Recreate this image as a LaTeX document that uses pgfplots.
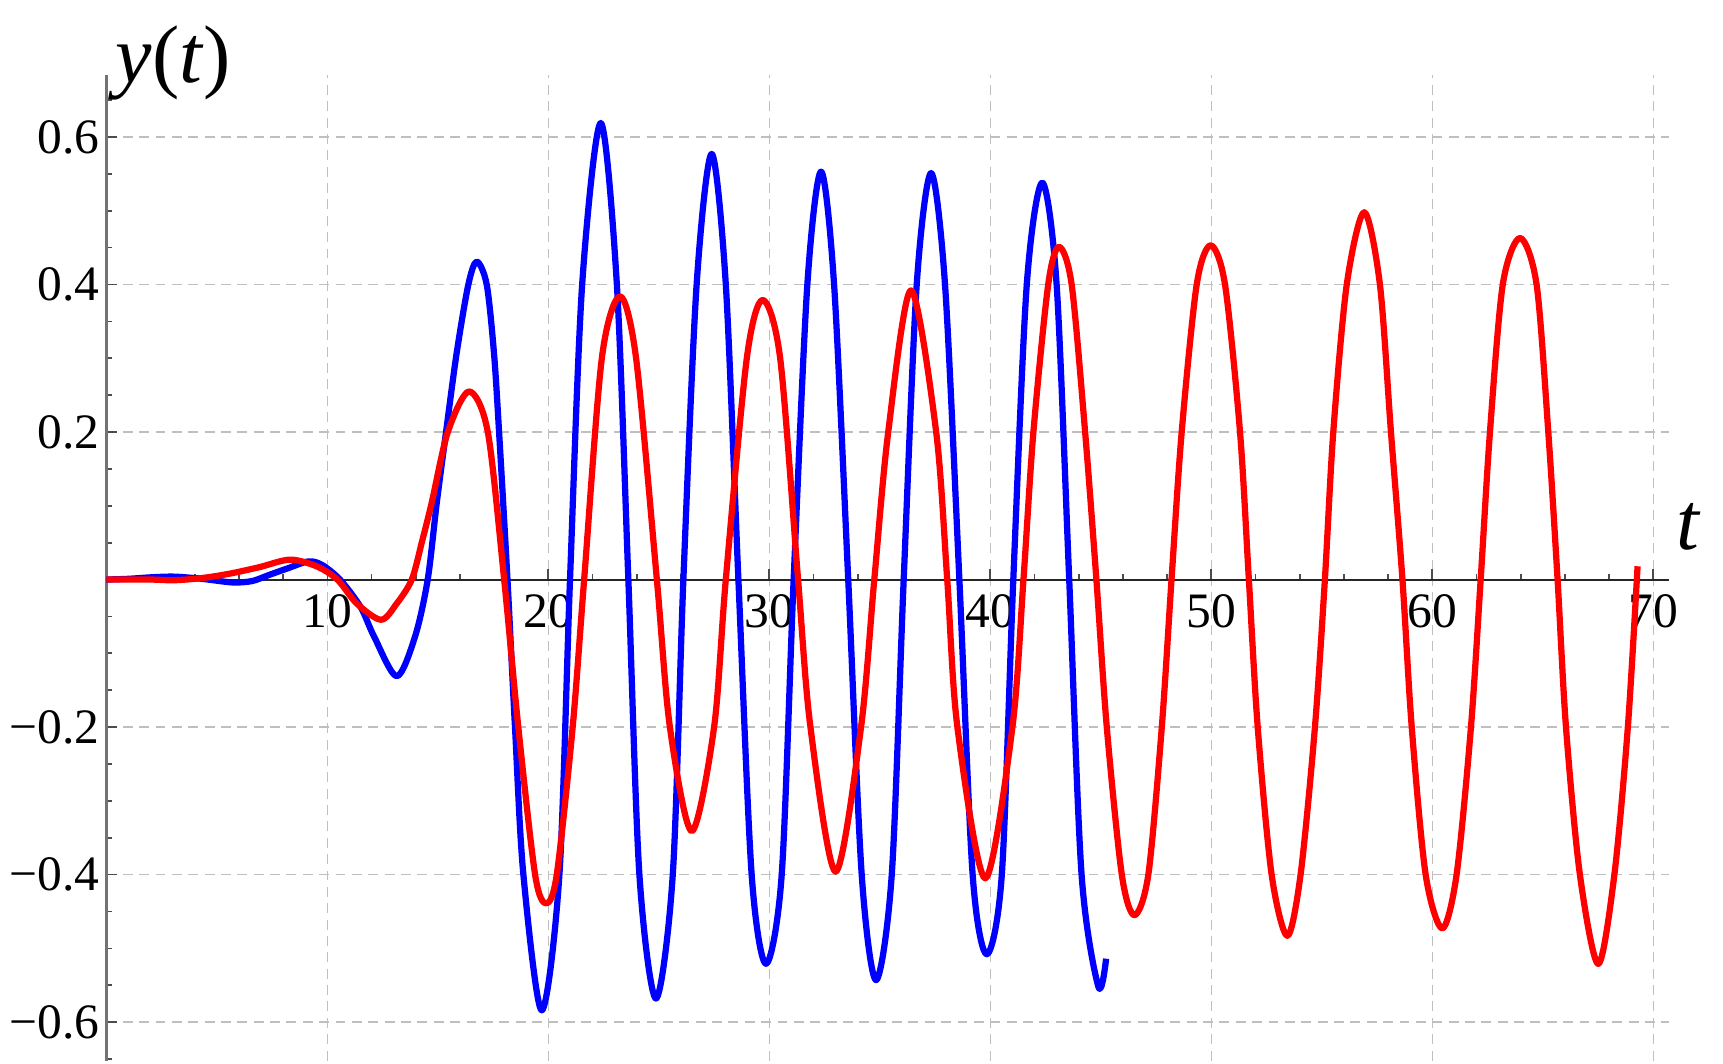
\documentclass[border=0pt]{standalone}
\usepackage{fontspec}
\setmainfont{Liberation Serif}
\usepackage{pgfplots}
\pgfplotsset{compat=1.18}

\begin{document}
\begin{tikzpicture}
\useasboundingbox (0,0) rectangle (400pt,247pt);
\begin{axis}[
  at={(24.7pt,0.8pt)}, anchor=south west,
  scale only axis, width=362.7pt, height=228.8pt,
  xmin=0, xmax=70.7, ymin=-0.652, ymax=0.684,
  clip=false,
  axis lines=middle,
  x axis line style={-, line width=0.45pt, black!85},
  y axis line style={-, line width=0.55pt, black!55},
  xtick={10,20,30,40,50,60,70},
  xticklabels={10,20,30,40,50,60,70},
  ytick={-0.6,-0.4,-0.2,0.2,0.4,0.6},
  yticklabels={−0.6,−0.4,−0.2,0.2,0.4,0.6},
  minor xtick={2,4,...,70},
  minor ytick={-0.65,-0.55,-0.5,-0.45,-0.35,-0.3,-0.25,-0.15,-0.1,-0.05,0.05,0.1,0.15,0.25,0.3,0.35,0.45,0.5,0.55,0.65},
  tick align=inside,
  major tick length=2.5pt, minor tick length=1.4pt,
  every tick/.style={black!70, line width=0.4pt},
  grid=major,
  major grid style={dash pattern=on 2.3pt off 1.5pt, black!25, line width=0.35pt},
  ticklabel style={font=\fontsize{11.5}{13}\selectfont},
  yticklabel style={xshift=1.9pt},
  xlabel={\textit{t}},
  ylabel={\textit{y}(\textit{t})},
  xlabel style={at={(axis description cs:1.013,0.5416)}, anchor=center, font=\fontsize{19}{22}\selectfont},
  ylabel style={at={(axis description cs:0.043,1.0125)}, anchor=center, font=\fontsize{19}{22}\selectfont},
]
\addplot[blue, line width=1.45pt, smooth, line join=round] coordinates {
(0,0) (1,0.001) (2,0.003) (3,0.004) (4,0.002) (4.6,0) (5.75,-0.004) (6.6,-0.002) (7.34,0.006) (8.24,0.0156) (9.14,0.0246) (9.75,0.02) (10.57,0) (11.5,-0.037) (12.11,-0.077) (13.14,-0.131) (13.97,-0.077) (14.54,0) (14.95,0.104) (15.37,0.2) (15.85,0.307) (16.38,0.4) (16.76,0.431) (17.21,0.4) (17.54,0.307) (17.77,0.2) (18.15,0) (18.49,-0.2) (18.87,-0.4) (19.70,-0.584) (20.50,-0.4) (20.98,0) (21.53,0.4) (22.37,0.619) (23.1,0.4) (23.62,0) (24.12,-0.4) (24.87,-0.568) (25.63,-0.4) (26.11,0) (26.71,0.4) (27.39,0.577) (28.03,0.4) (28.6,0) (29.20,-0.4) (29.85,-0.521) (30.56,-0.4) (31.1,0) (31.72,0.4) (32.34,0.553) (32.93,0.4) (33.57,0) (34.18,-0.4) (34.83,-0.543) (35.54,-0.4) (36.08,0) (36.67,0.4) (37.32,0.551) (37.95,0.4) (38.6,0) (39.2,-0.4) (39.84,-0.508) (40.52,-0.4) (41.04,0) (41.65,0.4) (42.35,0.538) (43.0,0.4) (43.57,0) (44.13,-0.4) (44.89,-0.552) (45.24,-0.514)
};
\addplot[red, line width=1.45pt, smooth, line join=round] coordinates {
(0,0) (2,0) (3,-0.001) (4,0.001) (4.8,0.004) (5.75,0.009) (6.95,0.017) (8.31,0.027) (9.51,0.018) (10.45,0) (11.33,-0.0325) (12.43,-0.0545) (13.14,-0.0325) (13.82,0) (14.27,0.05) (14.72,0.104) (15.45,0.2) (16.41,0.255) (17.26,0.2) (18.0,0) (18.64,-0.2) (19.40,-0.4) (19.90,-0.439) (20.38,-0.4) (21.1,-0.2) (21.62,0) (22.42,0.3) (23.24,0.384) (23.97,0.3) (24.91,0) (25.5,-0.2) (26.49,-0.341) (27.5,-0.2) (28.03,0) (28.98,0.3) (29.70,0.379) (30.49,0.3) (31.3,0) (31.86,-0.2) (33.0,-0.396) (34.15,-0.2) (34.75,0) (35.38,0.2) (36.41,0.392) (37.55,0.2) (38.05,0) (38.51,-0.2) (39.77,-0.405) (41.0,-0.2) (41.5,0) (41.95,0.2) (42.62,0.4) (43.11,0.451) (43.68,0.4) (44.29,0.2) (44.8,0) (45.27,-0.2) (45.95,-0.4) (46.52,-0.455) (47.15,-0.4) (47.76,-0.2) (48.2,0) (48.66,0.2) (49.34,0.4) (49.97,0.453) (50.62,0.4) (51.3,0.2) (51.7,0) (52.1,-0.2) (52.73,-0.4) (53.44,-0.483) (54.04,-0.4) (54.69,-0.2) (55.14,0) (55.52,0.2) (56.13,0.4) (56.92,0.498) (57.63,0.4) (58.13,0.2) (58.65,0) (59.07,-0.2) (59.70,-0.4) (60.45,-0.473) (61.1,-0.4) (61.75,-0.2) (62.19,0) (62.61,0.2) (63.19,0.4) (63.97,0.463) (64.72,0.4) (65.25,0.2) (65.67,0) (66.05,-0.2) (66.68,-0.4) (67.51,-0.521) (68.24,-0.4) (68.85,-0.2) (69.29,0.018)
};
\end{axis}
\end{tikzpicture}
\end{document}
